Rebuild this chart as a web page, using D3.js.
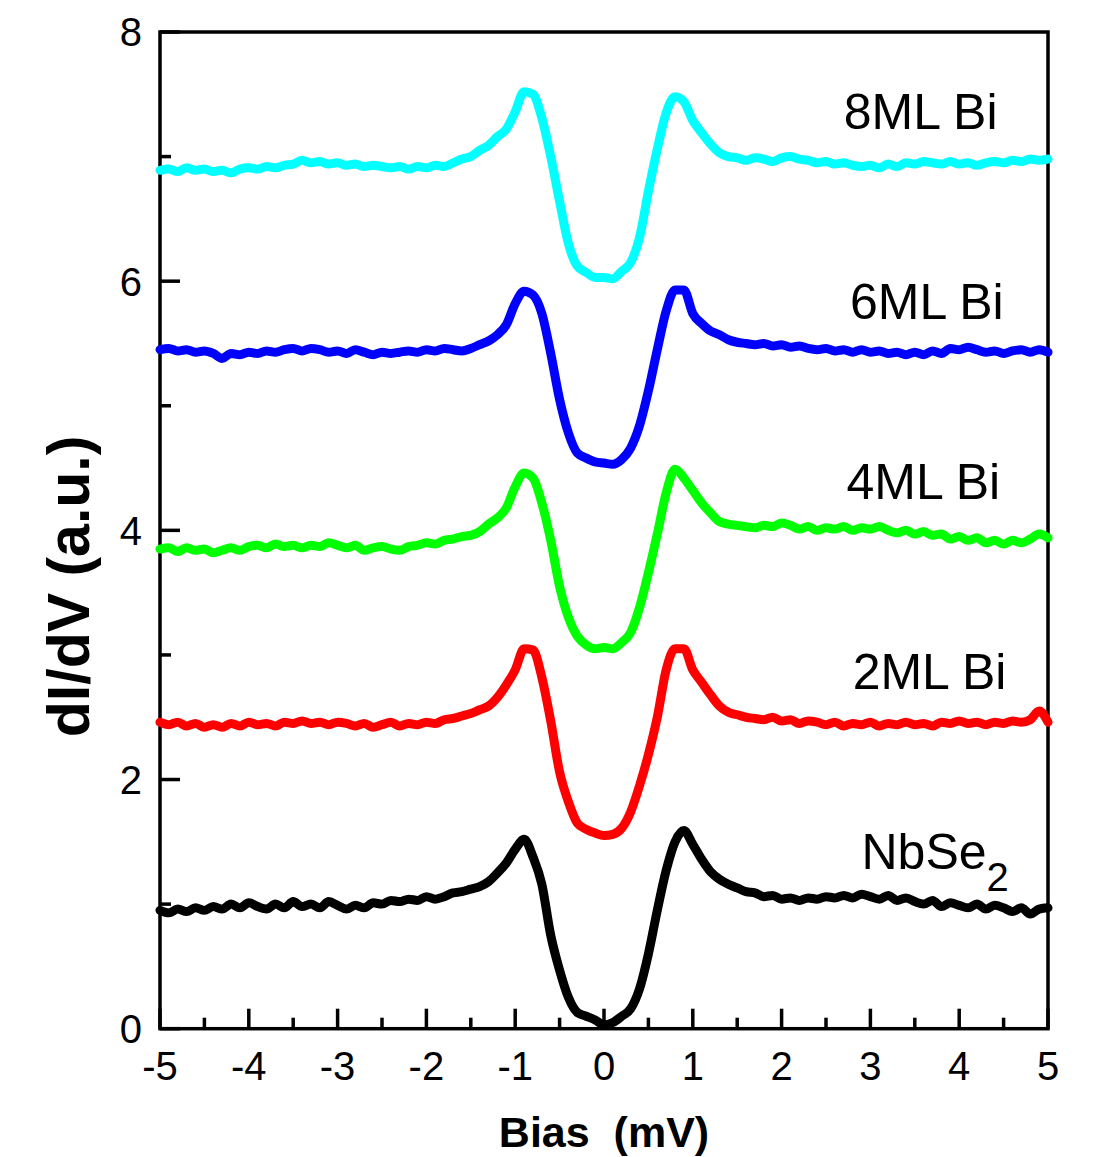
<!DOCTYPE html>
<html>
<head>
<meta charset="utf-8">
<script src="https://cdn.jsdelivr.net/npm/d3@7"></script>
<style>
  body { margin: 0; background: #fff; }
  svg { display: block; font-family: "Liberation Sans", Arial, sans-serif; }
</style>
</head>
<body>
<div id="chart"></div>
<script>
// bias values (mV), shared by every spectrum
var bias = [
  -5.0, -4.9, -4.8, -4.7, -4.6, -4.5, -4.4, -4.3, -4.2, -4.1,
  -4.0, -3.9, -3.8, -3.7, -3.6, -3.5, -3.4, -3.3, -3.2, -3.1,
  -3.0, -2.9, -2.8, -2.7, -2.6, -2.5, -2.4, -2.3, -2.2, -2.1,
  -2.0, -1.9, -1.8, -1.7, -1.6, -1.5, -1.4, -1.3, -1.2, -1.1,
  -1.0, -0.9, -0.8, -0.7, -0.6, -0.5, -0.4, -0.3, -0.2, -0.1,
   0.0,  0.1,  0.2,  0.3,  0.4,  0.5,  0.6,  0.7,  0.8,  0.9,
   1.0,  1.1,  1.2,  1.3,  1.4,  1.5,  1.6,  1.7,  1.8,  1.9,
   2.0,  2.1,  2.2,  2.3,  2.4,  2.5,  2.6,  2.7,  2.8,  2.9,
   3.0,  3.1,  3.2,  3.3,  3.4,  3.5,  3.6,  3.7,  3.8,  3.9,
   4.0,  4.1,  4.2,  4.3,  4.4,  4.5,  4.6,  4.7,  4.8,  4.9,
   5.0
];

// dI/dV (a.u.), curves already offset as in the figure
var nbse2 = [
  0.95, 0.93, 0.96, 0.94, 0.97, 0.95, 0.98, 0.96, 1.00, 0.97,
  1.01, 0.98, 0.96, 1.00, 0.97, 1.02, 0.98, 1.00, 0.97, 1.02,
  0.99, 0.96, 0.99, 0.97, 1.01, 1.00, 1.03, 1.02, 1.04, 1.03,
  1.06, 1.04, 1.06, 1.09, 1.10, 1.12, 1.14, 1.18, 1.25, 1.33,
  1.44, 1.52, 1.38, 1.16, 0.75, 0.47, 0.25, 0.13, 0.10, 0.07,
  0.03, 0.05, 0.10, 0.16, 0.32, 0.60, 0.95, 1.27, 1.50, 1.59,
  1.48, 1.36, 1.26, 1.20, 1.16, 1.13, 1.10, 1.09, 1.06, 1.07,
  1.04, 1.05, 1.03, 1.05, 1.04, 1.06, 1.05, 1.07, 1.05, 1.08,
  1.06, 1.04, 1.07, 1.03, 1.05, 1.02, 1.00, 1.03, 0.98, 1.01,
  0.99, 0.97, 1.00, 0.96, 0.99, 0.97, 0.94, 0.97, 0.92, 0.96,
  0.97
];
var bi2ml = [
  2.46, 2.44, 2.46, 2.43, 2.45, 2.42, 2.44, 2.42, 2.45, 2.43,
  2.46, 2.44, 2.45, 2.43, 2.46, 2.45, 2.47, 2.45, 2.46, 2.44,
  2.46, 2.45, 2.43, 2.45, 2.42, 2.44, 2.46, 2.43, 2.45, 2.44,
  2.46, 2.45, 2.48, 2.49, 2.51, 2.53, 2.56, 2.59, 2.66, 2.76,
  2.88, 3.05, 3.04, 2.82, 2.47, 2.06, 1.82, 1.65, 1.60, 1.57,
  1.55, 1.56, 1.61, 1.74, 1.95, 2.20, 2.50, 2.88, 3.05, 3.05,
  2.88, 2.78, 2.68, 2.59, 2.54, 2.52, 2.50, 2.49, 2.48, 2.50,
  2.47, 2.48, 2.45, 2.47, 2.46, 2.44, 2.46, 2.43, 2.45, 2.44,
  2.46, 2.43, 2.45, 2.44, 2.46, 2.44, 2.45, 2.43, 2.46, 2.45,
  2.47, 2.45, 2.46, 2.44, 2.46, 2.45, 2.47, 2.46, 2.48, 2.55,
  2.46
];
var bi4ml = [
  3.85, 3.86, 3.83, 3.86, 3.84, 3.85, 3.82, 3.84, 3.86, 3.84,
  3.87, 3.88, 3.86, 3.89, 3.87, 3.88, 3.86, 3.88, 3.87, 3.90,
  3.88, 3.86, 3.88, 3.84, 3.86, 3.87, 3.85, 3.84, 3.87, 3.88,
  3.90, 3.89, 3.92, 3.93, 3.95, 3.96, 3.99, 4.05, 4.10, 4.18,
  4.35, 4.46, 4.42, 4.22, 3.92, 3.55, 3.30, 3.15, 3.08, 3.05,
  3.06, 3.05, 3.10, 3.18, 3.38, 3.66, 3.97, 4.30, 4.49, 4.42,
  4.32, 4.22, 4.14, 4.07, 4.05, 4.04, 4.03, 4.02, 4.04, 4.03,
  4.06, 4.04, 4.01, 4.03, 4.00, 4.02, 4.01, 4.03, 4.00, 4.02,
  4.01, 4.03, 4.00, 3.98, 4.00, 3.97, 3.99, 3.96, 3.97, 3.93,
  3.95, 3.92, 3.94, 3.90, 3.92, 3.89, 3.92, 3.90, 3.93, 3.97,
  3.94
];
var bi6ml = [
  5.45, 5.46, 5.44, 5.45, 5.43, 5.44, 5.42, 5.38, 5.42, 5.41,
  5.43, 5.42, 5.44, 5.43, 5.45, 5.46, 5.44, 5.46, 5.45, 5.43,
  5.44, 5.42, 5.45, 5.43, 5.41, 5.43, 5.42, 5.43, 5.44, 5.43,
  5.45, 5.44, 5.46, 5.45, 5.44, 5.46, 5.49, 5.52, 5.57, 5.65,
  5.82, 5.92, 5.89, 5.74, 5.42, 5.05, 4.78, 4.62, 4.58, 4.55,
  4.54, 4.53, 4.57, 4.66, 4.84, 5.12, 5.45, 5.76, 5.93, 5.93,
  5.74, 5.66, 5.60, 5.57, 5.53, 5.51, 5.50, 5.49, 5.50, 5.48,
  5.49, 5.47, 5.48, 5.46, 5.45, 5.46, 5.44, 5.45, 5.43, 5.45,
  5.43, 5.44, 5.42, 5.43, 5.41, 5.43, 5.41, 5.44, 5.42, 5.46,
  5.45, 5.47, 5.45, 5.43, 5.44, 5.42, 5.44, 5.45, 5.43, 5.45,
  5.43
];
var bi8ml = [
  6.89, 6.90, 6.88, 6.91, 6.89, 6.90, 6.88, 6.89, 6.87, 6.90,
  6.91, 6.90, 6.92, 6.91, 6.93, 6.94, 6.97, 6.95, 6.96, 6.94,
  6.95, 6.93, 6.94, 6.92, 6.93, 6.92, 6.91, 6.92, 6.90, 6.92,
  6.91, 6.93, 6.92, 6.95, 6.98, 7.00, 7.05, 7.09, 7.16, 7.22,
  7.36, 7.52, 7.50, 7.31, 7.00, 6.64, 6.30, 6.12, 6.07, 6.03,
  6.03, 6.02, 6.08, 6.15, 6.35, 6.72, 7.06, 7.35, 7.48, 7.44,
  7.29, 7.19, 7.10, 7.03, 7.00, 6.99, 6.97, 6.99, 6.98, 6.96,
  6.99, 7.00, 6.98, 6.97, 6.95, 6.96, 6.94, 6.95, 6.93, 6.92,
  6.93, 6.91, 6.94, 6.92, 6.95, 6.94, 6.96, 6.95, 6.94, 6.96,
  6.94, 6.95, 6.93, 6.95, 6.96, 6.95, 6.97, 6.96, 6.98, 6.97,
  6.98
];

var seriesNames = ["NbSe2", "2ML Bi", "4ML Bi", "6ML Bi", "8ML Bi"];
var seriesValues = [nbse2, bi2ml, bi4ml, bi6ml, bi8ml];
var seriesColors = ["#000000", "#ff0000", "#00ff00", "#0000ff", "#00ffff"];

var xTicks = [-5, -4, -3, -2, -1, 0, 1, 2, 3, 4, 5];
var yTicks = [0, 2, 4, 6, 8];

drawChart();

function drawChart() {
  var width = 1112, height = 1157;
  var left = 160, right = 1048, top = 32, bottom = 1028.7;

  var x = d3.scaleLinear().domain([-5, 5]).range([left, right]);
  var y = d3.scaleLinear().domain([0, 8]).range([bottom, top]);

  var svg = d3.select('#chart')
    .append('svg')
    .attr('width', width)
    .attr('height', height);

  // frame
  svg.append('rect')
    .attr('x', left)
    .attr('y', top)
    .attr('width', right - left)
    .attr('height', bottom - top)
    .attr('fill', 'none')
    .attr('stroke', '#000')
    .attr('stroke-width', 3.5);

  // inward ticks, bottom
  var xMinor = d3.range(-4.5, 5, 1);
  svg.append('g')
    .selectAll('line')
    .data(xTicks.map(function(d) { return {v: d, len: 20}; })
      .concat(xMinor.map(function(d) { return {v: d, len: 11}; })))
    .enter()
    .append('line')
    .attr('x1', function(d) { return x(d.v); })
    .attr('x2', function(d) { return x(d.v); })
    .attr('y1', bottom)
    .attr('y2', function(d) { return bottom - d.len; })
    .attr('stroke', '#000')
    .attr('stroke-width', 3.5);

  // inward ticks, left
  var yMinor = [1, 3, 5, 7];
  svg.append('g')
    .selectAll('line')
    .data(yTicks.map(function(d) { return {v: d, len: 20}; })
      .concat(yMinor.map(function(d) { return {v: d, len: 11}; })))
    .enter()
    .append('line')
    .attr('y1', function(d) { return y(d.v); })
    .attr('y2', function(d) { return y(d.v); })
    .attr('x1', left)
    .attr('x2', function(d) { return left + d.len; })
    .attr('stroke', '#000')
    .attr('stroke-width', 3.5);

  // tick labels
  svg.append('g')
    .selectAll('text')
    .data(xTicks)
    .enter()
    .append('text')
    .attr('x', function(d) { return x(d); })
    .attr('y', bottom + 51)
    .attr('text-anchor', 'middle')
    .attr('font-size', 40)
    .text(function(d) { return d; });

  svg.append('g')
    .selectAll('text')
    .data(yTicks)
    .enter()
    .append('text')
    .attr('x', left - 18)
    .attr('y', function(d) { return y(d); })
    .attr('dy', '0.36em')
    .attr('text-anchor', 'end')
    .attr('font-size', 40)
    .text(function(d) { return d; });

  // axis titles
  svg.append('text')
    .attr('x', x(0))
    .attr('y', 1147)
    .attr('text-anchor', 'middle')
    .attr('font-size', 43)
    .attr('font-weight', 'bold')
    .attr('xml:space', 'preserve')
    .text('Bias  (mV)');

  svg.append('text')
    .attr('transform', 'translate(89,' + y(3.55) + ') rotate(-90)')
    .attr('text-anchor', 'middle')
    .attr('font-size', 59)
    .attr('font-weight', 'bold')
    .text('dI/dV (a.u.)');

  // spectra
  var line = d3.line()
    .x(function(d) { return x(d[0]); })
    .y(function(d) { return y(d[1]); })
    .curve(d3.curveMonotoneX);

  svg.append('g')
    .selectAll('path')
    .data(seriesValues)
    .enter()
    .append('path')
    .attr('d', function(vals) {
      return line(vals.map(function(v, i) { return [bias[i], v]; }));
    })
    .attr('fill', 'none')
    .attr('stroke', function(d, i) { return seriesColors[i]; })
    .attr('stroke-width', 9)
    .attr('stroke-linejoin', 'round')
    .attr('stroke-linecap', 'round');

  // curve labels (bias / dI/dV anchor of the left edge of each label)
  var labelAnchor = [[2.90, 1.28], [2.80, 2.73], [2.73, 4.25], [2.77, 5.70], [2.70, 7.22]];
  var labels = svg.append('g')
    .selectAll('text')
    .data(seriesNames)
    .enter()
    .append('text')
    .attr('x', function(d, i) { return x(labelAnchor[i][0]); })
    .attr('y', function(d, i) { return y(labelAnchor[i][1]); })
    .attr('font-size', 50);

  labels.each(function(d) {
    var t = d3.select(this);
    if (d === 'NbSe2') {
      t.append('tspan').text('NbSe');
      t.append('tspan').attr('font-size', 40).attr('dy', 22).text('2');
    } else {
      t.text(d);
    }
  });
}
</script>
</body>
</html>
